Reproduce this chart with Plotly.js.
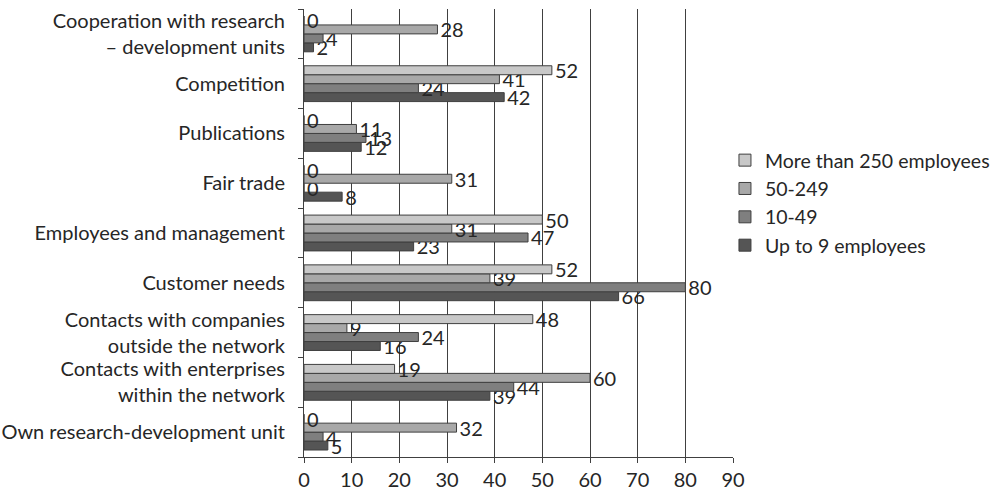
<!DOCTYPE html>
<html>
<head>
<meta charset="utf-8">
<script src="https://cdn.plot.ly/plotly-3.0.1.min.js"></script>
<style>html,body{margin:0;padding:0;background:#fff;}#chart{width:995px;height:495px;}</style>
</head>
<body>
<div id="chart"></div>
<script>
// Categories listed bottom to top
var categories = [
  "Own research-development unit",
  "Contacts with enterprises<br>within the network",
  "Contacts with companies<br>outside the network",
  "Customer needs",
  "Employees and management",
  "Fair trade",
  "Publications",
  "Competition",
  "Cooperation with research<br>– development units"
];
var seriesNames = ["Up to 9 employees", "10-49", "50-249", "More than 250 employees"];
var upTo9      = [5, 39, 16, 66, 23, 8, 12, 42, 2];
var from10to49 = [4, 44, 24, 80, 47, 0, 13, 24, 4];
var from50to249= [32, 60, 9, 39, 31, 31, 11, 41, 28];
var over250    = [0, 19, 48, 52, 50, 0, 0, 52, 0];
var xTicks = [0, 10, 20, 30, 40, 50, 60, 70, 80, 90];

var seriesValues = [upTo9, from10to49, from50to249, over250];
var colors = ["#555555", "#7f7f7f", "#a8a8a8", "#c8c8c8"];
var fontFam = "Lato, 'Open Sans', sans-serif";
var fs = 20;

var traces = seriesValues.map(function (vals, i) {
  return {
    type: "bar",
    orientation: "h",
    name: seriesNames[i],
    y: categories,
    x: vals,
    text: vals.map(String),
    textposition: "outside",
    constraintext: "none",
    cliponaxis: false,
    textfont: {family: fontFam, size: fs, color: "#262626"},
    marker: {color: colors[i], line: {color: "#3f3f3f", width: 1}},
    hoverinfo: "x+y"
  };
});

var layout = {
  width: 995, height: 495,
  margin: {l: 304, r: 262, t: 9, b: 38, pad: 0, autoexpand: false},
  paper_bgcolor: "#ffffff", plot_bgcolor: "#ffffff",
  font: {family: fontFam, size: fs, color: "#262626"},
  barmode: "group",
  bargap: 0.28,
  bargroupgap: 0,
  showlegend: true,
  legend: {
    xref: "container", yref: "container",
    x: 0.7286, xanchor: "left", y: 0.59, yanchor: "middle",
    traceorder: "reversed",
    font: {family: fontFam, size: 19.5, color: "#262626"},
    itemwidth: 30, tracegroupgap: 0,
    borderwidth: 0,
    bgcolor: "rgba(0,0,0,0)"
  },
  xaxis: {
    range: [0, 90],
    tickvals: xTicks,
    ticktext: xTicks.map(String),
    showgrid: true, gridcolor: "#404040", gridwidth: 1,
    zeroline: false,
    showline: true, linecolor: "#404040", linewidth: 1,
    ticks: "outside", ticklen: 5, tickcolor: "#404040",
    tickfont: {family: fontFam, size: fs, color: "#262626"},
    fixedrange: true
  },
  yaxis: {
    type: "category",
    categoryorder: "array", categoryarray: categories,
    showgrid: false, zeroline: false,
    showline: true, linecolor: "#404040", linewidth: 1,
    ticks: "outside", ticklen: 5, tickcolor: "#404040",
    tickson: "boundaries",
    ticklabelstandoff: 14,
    tickfont: {family: fontFam, size: fs, color: "#262626"},
    fixedrange: true
  }
};

Plotly.newPlot("chart", traces, layout, {displayModeBar: false, staticPlot: true});
</script>
</body>
</html>
